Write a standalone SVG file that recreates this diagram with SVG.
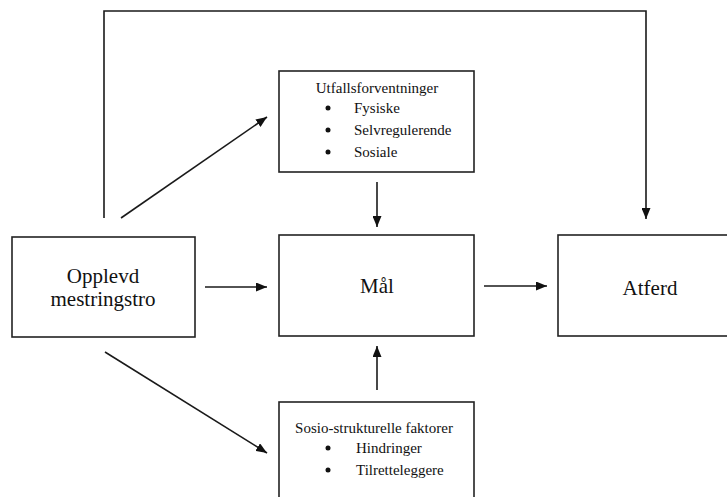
<svg xmlns="http://www.w3.org/2000/svg" width="727" height="497" viewBox="0 0 727 497">
<style>
.box{fill:#fff;stroke:#222;stroke-width:1.6}
.ln{fill:none;stroke:#1a1a1a;stroke-width:1.6}
text{font-family:'Liberation Serif','Times New Roman',Times,serif;fill:#111}
.big{font-size:21px;text-anchor:middle}
.sm{font-size:15px}
.mid{text-anchor:middle}
.dot{fill:#111}
</style>
<defs>
<marker id="ah" markerWidth="11" markerHeight="9" refX="11" refY="4.5" orient="auto" markerUnits="userSpaceOnUse">
<path d="M0,0 L11,4.5 L0,9 z" fill="#111"/>
</marker>
</defs>
<g id="node-utfall" font-family="Liberation Serif, serif">
<rect class="box" x="279" y="71" width="195" height="101"/>
<text class="sm mid" x="377" y="93">Utfallsforventninger</text>
<circle class="dot" cx="328" cy="108" r="2.5"/>
<text class="sm" x="354" y="113">Fysiske</text>
<circle class="dot" cx="328" cy="130" r="2.5"/>
<text class="sm" x="354" y="135">Selvregulerende</text>
<circle class="dot" cx="328" cy="152" r="2.5"/>
<text class="sm" x="354" y="157">Sosiale</text>
</g>
<g id="node-opplevd" font-family="Liberation Serif, serif">
<rect class="box" x="12" y="237" width="183" height="100"/>
<text class="big" x="103" y="283">Opplevd</text>
<text class="big" x="103" y="306">mestringstro</text>
</g>
<g id="node-mal" font-family="Liberation Serif, serif">
<rect class="box" x="279" y="235" width="195" height="101"/>
<text class="big" x="377" y="293">Mål</text>
</g>
<g id="node-atferd" font-family="Liberation Serif, serif">
<rect class="box" x="558" y="235" width="180" height="101"/>
<text class="big" x="650" y="295">Atferd</text>
</g>
<g id="node-sosio" font-family="Liberation Serif, serif">
<rect class="box" x="279" y="402" width="195" height="110"/>
<text class="sm mid" x="374" y="433">Sosio-strukturelle faktorer</text>
<circle class="dot" cx="328" cy="448" r="2.5"/>
<text class="sm" x="356" y="453">Hindringer</text>
<circle class="dot" cx="328" cy="470" r="2.5"/>
<text class="sm" x="356" y="475">Tilretteleggere</text>
</g>
<g id="connectors">
<polyline class="ln" points="104,218 104,11 646,11 646,219" marker-end="url(#ah)"/>
<line class="ln" x1="121" y1="218" x2="267" y2="117" marker-end="url(#ah)"/>
<line class="ln" x1="377" y1="182" x2="377" y2="227" marker-end="url(#ah)"/>
<line class="ln" x1="205" y1="287" x2="267" y2="287" marker-end="url(#ah)"/>
<line class="ln" x1="484" y1="286" x2="547" y2="286" marker-end="url(#ah)"/>
<line class="ln" x1="377" y1="390" x2="377" y2="346" marker-end="url(#ah)"/>
<line class="ln" x1="105" y1="352" x2="267" y2="453" marker-end="url(#ah)"/>
</g>
</svg>
